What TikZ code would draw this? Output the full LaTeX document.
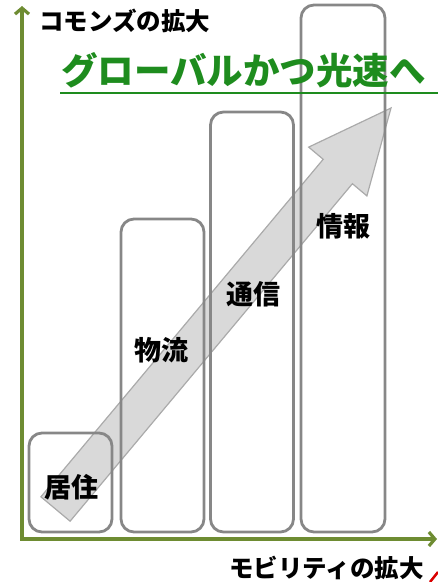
\documentclass[tikz,border=0pt]{standalone}
\usepackage{fontspec}
\IfFontExistsTF{Noto Sans CJK JP Black}
  {\newfontfamily\cjk{Noto Sans CJK JP Black}\newcommand\cjkwt{}}
  {\newfontfamily\cjk{Noto Sans CJK JP}\newcommand\cjkwt{\bfseries}}
\usetikzlibrary{arrows.meta}
\definecolor{axisgreen}{RGB}{110,140,50}
\definecolor{titlegreen}{RGB}{30,140,30}
\definecolor{boxgray}{RGB}{135,135,135}
\definecolor{arrowfill}{RGB}{217,217,217}
\definecolor{arrowline}{RGB}{170,170,170}
\tikzset{
  colbox/.style={draw=boxgray, line width=2.8pt, rounded corners=13pt, inner sep=0pt},
  lbl/.style={font=\cjk\cjkwt\fontsize{27}{27}\selectfont, text=black, inner sep=0pt},
  axlbl/.style={font=\cjk\cjkwt\fontsize{24.5}{24.5}\selectfont, text=black, inner sep=0pt},
  axisline/.style={draw=axisgreen, line width=3.2pt, line cap=rect, -{Straight Barb[length=6pt,width=14pt]}},
  bigarrow/.style={fill=arrowfill, draw=arrowline, line width=1.2pt, line join=miter},
}
\begin{document}
\begin{tikzpicture}[x=1pt,y=-1pt]
\useasboundingbox (0,0) rectangle (438,582);
% big diagonal arrow
\draw[bigarrow] (70.1,521.2) -- (352.4,183.7) -- (366.9,195.9) -- (391,108)
  -- (308.7,147.1) -- (323.2,159.3) -- (40.9,496.8) -- cycle;
% columns
\node[colbox, minimum width=83pt, minimum height=99pt] (b1) at (70.5,482.5) {};
\node[colbox, minimum width=83pt, minimum height=313pt] (b2) at (162.5,375.5) {};
\node[colbox, minimum width=83pt, minimum height=420pt] (b3) at (252,322) {};
\node[colbox, minimum width=84pt, minimum height=527pt] (b4) at (343,268.5) {};
% labels
\node[lbl] (l1) at (72,487) {居住};
\node[lbl] (l2) at (161,350) {物流};
\node[lbl] (l3) at (253,294) {通信};
\node[lbl] (l4) at (343,226) {情報};
% axes
\coordinate (O) at (22,539);
\coordinate (ytip) at (22,6);
\coordinate (xtip) at (437,539);
\draw[axisline] (O) -- (ytip);
\draw[axisline] (O) -- (xtip);
\node[axlbl, anchor=west] (yl) at (39,21) {コモンズの拡大};
\node[axlbl, anchor=west] (xl) at (229,568) {モビリティの拡大};
% title
\node[font=\cjk\cjkwt\fontsize{36.5}{36.5}\selectfont, text=titlegreen, inner sep=0pt, anchor=west] (title) at (61,70) {グローバルかつ光速へ};
\coordinate (ul1) at (60,93);
\coordinate (ul2) at (438,93);
\draw[titlegreen, line width=2pt] (ul1) -- (ul2);
% red fragment at the corner
\coordinate (r1) at (430,582);
\coordinate (r2) at (438,572);
\draw[red!85!black, line width=2.5pt] (r1) -- (r2);
\end{tikzpicture}
\end{document}
